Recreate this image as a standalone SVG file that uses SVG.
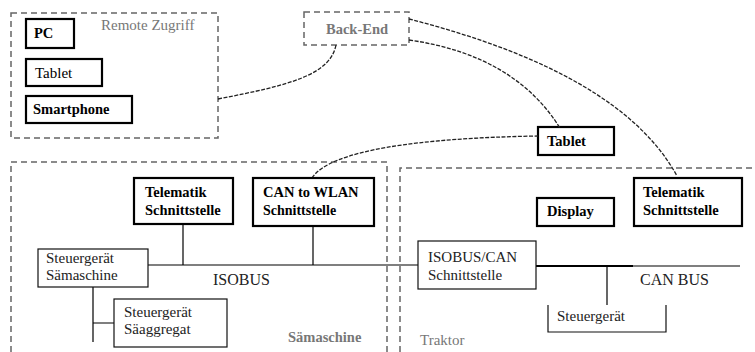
<svg xmlns="http://www.w3.org/2000/svg" width="755" height="352" viewBox="0 0 755 352">
<style>
.zone{fill:none;stroke:#666;stroke-width:1.5;stroke-dasharray:6 4}
.thick{fill:#fff;stroke:#000;stroke-width:2.2}
.thin{fill:#fff;stroke:#111;stroke-width:1.2}
text{font-family:"Liberation Serif","Times New Roman",Tinos,"DejaVu Serif",serif}
.b{font-size:14.5px;font-weight:bold;fill:#000}
.r{font-size:15px;fill:#222}
.g{font-size:14.5px;font-weight:bold;fill:#777}
.bus{stroke:#000;stroke-width:1.2;fill:none}
.link{fill:none;stroke:#222;stroke-width:1.3;stroke-dasharray:4 1.5}
</style>
<rect width="755" height="352" fill="#fff"/>
<g id="zone-remote">
<rect class="zone" x="11" y="13" width="207" height="125"/>
<text class="g" x="101" y="30" style="font-weight:normal;font-size:15px">Remote Zugriff</text>
</g>
<g id="zone-saemaschine">
<path class="zone" d="M11,352 V162 H387 V352"/>
<text class="g" x="288" y="342">Sämaschine</text>
</g>
<g id="zone-traktor">
<path class="zone" d="M400,352 V168 H755"/>
<text class="g" x="420" y="345" style="font-weight:normal;font-size:15px">Traktor</text>
</g>
<g id="backend">
<rect class="zone" x="304" y="12" width="105" height="33"/>
<text class="g" x="357" y="34" text-anchor="middle">Back-End</text>
</g>
<g id="pc">
<rect class="thick" x="26" y="19" width="48" height="29"/>
<text class="b" x="34" y="38">PC</text>
</g>
<g id="tablet-remote">
<rect class="thick" x="26" y="59" width="76" height="27"/>
<text class="r" x="35" y="78" style="fill:#000">Tablet</text>
</g>
<g id="smartphone">
<rect class="thick" x="26" y="96" width="106" height="27"/>
<text class="b" x="33" y="114">Smartphone</text>
</g>
<g id="tablet">
<rect class="thick" x="538" y="127" width="76" height="28"/>
<text class="b" x="547" y="146">Tablet</text>
</g>
<g id="connectors">
<path class="bus" d="M148,265 H418"/>
<path class="bus" d="M183,224 V265"/>
<path class="bus" d="M313,226 V265"/>
<path class="bus" d="M93,287 V342 M93,323 H114"/>
<path class="bus" d="M536,266 H633" style="stroke-width:2"/>
<path class="bus" d="M633,266 H740"/>
<path class="bus" d="M607,266 V305"/>
<path class="link" d="M218,99 C290,85 330,75 336,45"/>
<path class="link" d="M409,19 C510,45 630,90 677,176"/>
<path class="link" d="M409,40 C480,50 530,80 560,128"/>
<path class="link" d="M312,178 C330,150 420,138 538,136"/>
</g>
<g id="telematik-s">
<rect class="thick" x="134" y="178" width="99" height="46"/>
<text class="b" x="145" y="197">Telematik</text>
<text class="b" x="145" y="215">Schnittstelle</text>
</g>
<g id="can-wlan">
<rect class="thick" x="253" y="178" width="121" height="48"/>
<text class="b" x="263" y="197">CAN to WLAN</text>
<text class="b" x="263" y="215" style="font-size:14px">Schnittstelle</text>
</g>
<g id="steuergeraet-saemaschine">
<rect class="thin" x="38" y="249" width="110" height="38"/>
<text class="r" x="46" y="263">Steuergerät</text>
<text class="r" x="46" y="280">Sämaschine</text>
</g>
<g id="steuergeraet-saeaggregat">
<rect class="thin" x="114" y="299" width="113" height="48"/>
<text class="r" x="124" y="317">Steuergerät</text>
<text class="r" x="124" y="334">Säaggregat</text>
</g>
<g id="isobus-label">
<text class="r" x="213" y="285" style="font-size:16px">ISOBUS</text>
</g>
<g id="isobus-can">
<rect class="thin" x="418" y="241" width="118" height="48"/>
<text class="r" x="428" y="262">ISOBUS/CAN</text>
<text class="r" x="428" y="280">Schnittstelle</text>
</g>
<g id="display">
<rect class="thick" x="537" y="198" width="77" height="28"/>
<text class="b" x="547" y="216">Display</text>
</g>
<g id="telematik-t">
<rect class="thick" x="634" y="178" width="108" height="48"/>
<text class="b" x="643" y="197">Telematik</text>
<text class="b" x="643" y="215">Schnittstelle</text>
</g>
<g id="canbus-label">
<text class="r" x="640" y="285" style="font-size:16px">CAN BUS</text>
</g>
<g id="steuergeraet-traktor">
<path class="thin" d="M548,305 V332 H666 V305"/>
<text class="r" x="557" y="321">Steuergerät</text>
</g>
</svg>
